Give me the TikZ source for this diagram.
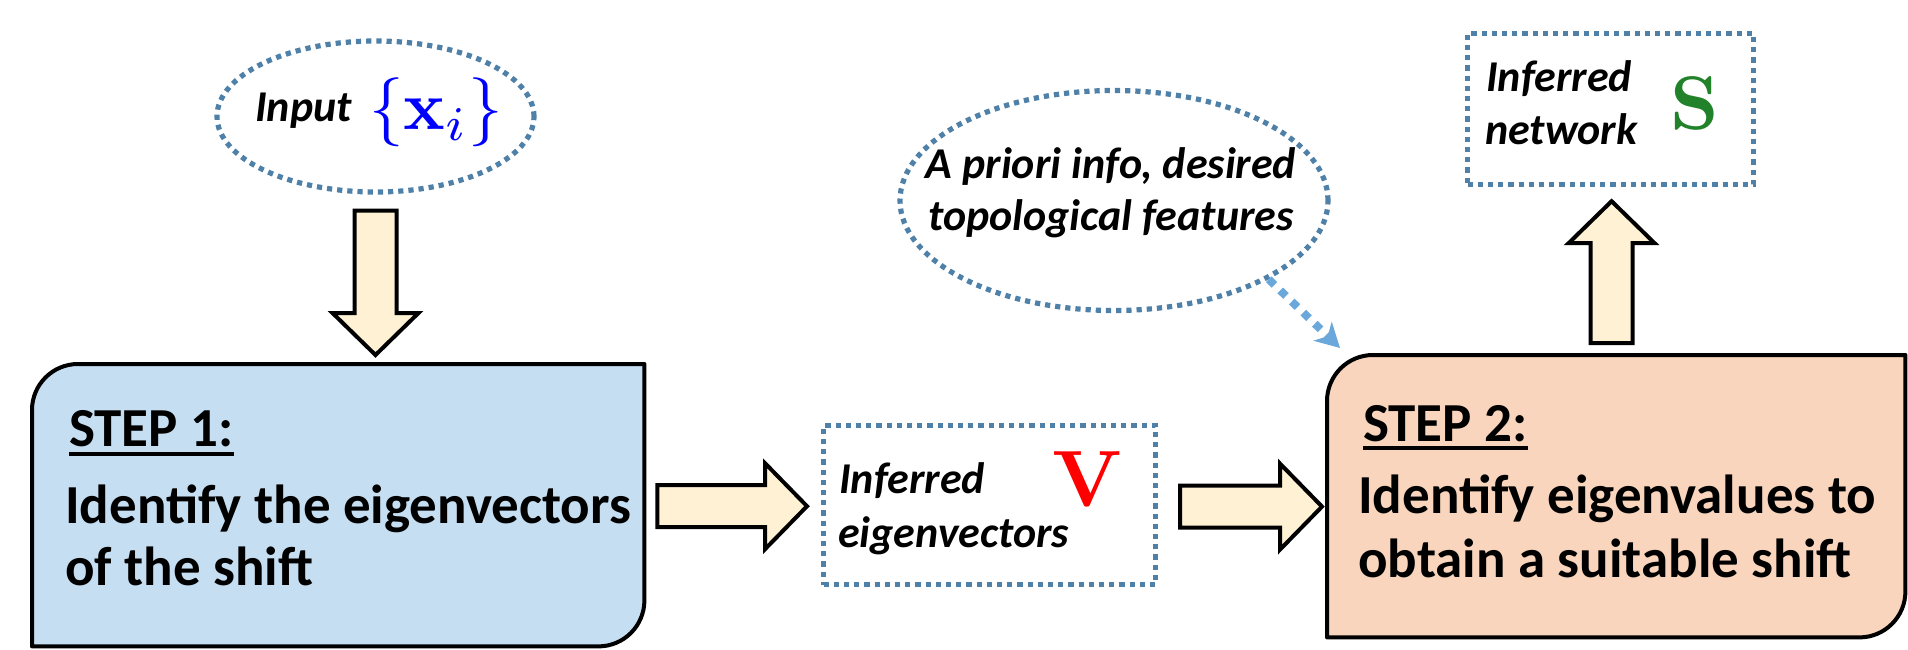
\documentclass[tikz,border=0pt]{standalone}
\usepackage{graphicx}
\usepackage[no-math]{fontspec}
\setmainfont{Carlito}
\usetikzlibrary{shapes.geometric,calc,arrows.meta}
\definecolor{stepA}{HTML}{C6DEF1}
\definecolor{stepB}{HTML}{F8D5BC}
\definecolor{cream}{HTML}{FFF2D4}
\definecolor{dotcol}{HTML}{4E80A8}
\definecolor{arrcol}{HTML}{6AA8DC}
\definecolor{sgreen}{HTML}{22822A}
\tikzset{
  dotline/.style={draw=dotcol, line width=5.2pt, dash pattern=on 5.2pt off 5pt},
  dotbox/.style={dotline, rectangle, inner sep=0pt},
  dotell/.style={dotline, ellipse, inner sep=0pt},
  stepline/.style={draw=black, line width=4pt, line join=round},
  blockline/.style={draw=black, fill=cream, line width=4pt, line join=miter},
  bodytext/.style={font=\fontsize{55}{66}\selectfont\bfseries, inner sep=0pt, anchor=base west},
  labtext/.style={font=\fontsize{44}{52}\selectfont\bfseries\itshape, inner sep=0pt, anchor=base west},
  mathlab/.style={inner sep=0pt, anchor=base west},
  holder/.style={inner sep=0pt, anchor=north west},
  dotarrow/.style={draw=arrcol, line width=8pt, dash pattern=on 8pt off 8pt, -{Stealth[length=24pt,width=26pt,inset=7pt]}},
}
\newcommand{\blockarrow}[2]{%
  \draw[blockline] let \p1=#1, \p2=#2,
    \n1={atan2(\y2-\y1,\x2-\x1)}, \n2={veclen(\x2-\x1,\y2-\y1)} in
    [shift={(\p1)}, rotate=\n1]
    (0,-21) -- ({\n2-42},-21) -- ({\n2-42},-43) -- ({\n2},0)
    -- ({\n2-42},43) -- ({\n2-42},21) -- (0,21) -- cycle;}
\newcommand{\stepshape}[2]{%
  \draw[stepline, fill=#2] (#1.south west) -- ([yshift=-46pt]#1.north west)
    .. controls ([yshift=-20.6pt]#1.north west) and ([xshift=20.6pt]#1.north west) .. ([xshift=46pt]#1.north west)
    -- (#1.north east) -- ([yshift=46pt]#1.south east)
    .. controls ([yshift=20.6pt]#1.south east) and ([xshift=-20.6pt]#1.south east) .. ([xshift=-46pt]#1.south east)
    -- cycle;}
\begin{document}
\begin{tikzpicture}[x=1pt,y=-1pt]
\useasboundingbox (0,0) rectangle (1908,650);

% Input ellipse
\node[dotell, minimum width=317pt, minimum height=151pt] (inp) at (375.5,116.5) {};
\node[labtext] (inpt) at (255,122) {Input};
\node[mathlab, text=blue] (inpx) at (369,130) {\scalebox{6.9}{$\{\mathbf{x}_i\}$}};

% Step 1
\node[holder, minimum width=612pt, minimum height=282pt] (s1) at (32,364) {};
\stepshape{s1}{stepA}
\node[bodytext] (h1) at (69,446) {STEP 1:};
\draw[line width=4.5pt] ([yshift=-8pt]h1.base west) -- ([yshift=-8pt]h1.base east);
\node[bodytext] (t1a) at (65,523) {Identify the eigenvectors};
\node[bodytext] (t1b) at (65,585) {of the shift};

% Inferred eigenvectors box
\node[dotbox, minimum width=332pt, minimum height=159pt, anchor=north west] (vb) at (821,423) {};
\node[labtext] (vt1) at (839,493) {Inferred};
\node[labtext] (vt2) at (838,547) {eigenvectors};
\node[mathlab, text=red] (vv) at (1052,506) {\scalebox{8}{$\mathbf{V}$}};

% Step 2
\node[holder, minimum width=578pt, minimum height=282pt] (s2) at (1327,355) {};
\stepshape{s2}{stepB}
\node[bodytext] (h2) at (1363,441) {STEP 2:};
\draw[line width=4.5pt] ([yshift=-7pt]h2.base west) -- ([yshift=-7pt]h2.base east);
\node[bodytext] (t2a) at (1358,513) {Identify eigenvalues to};
\node[bodytext] (t2b) at (1358,577) {obtain a suitable shift};

% Inferred network box
\node[dotbox, minimum width=286pt, minimum height=151pt, anchor=north west] (sb) at (1465,31) {};
\node[labtext] (st1) at (1486,92) {Inferred};
\node[labtext] (st2) at (1485,145) {network};
\node[mathlab, text=sgreen] (ss) at (1670,130) {\scalebox{7.6}{$\mathbf{S}$}};

% A priori ellipse
\node[dotell, minimum width=428pt, minimum height=220pt] (ap) at (1114,200.5) {};
\node[labtext, anchor=base] (apt1) at (1111,178) {A priori info, desired};
\node[labtext, anchor=base] (apt2) at (1111,230) {topological features};

% connectors
\coordinate (d1a) at ($(inp.south)+(0,16)$);
\coordinate (d1b) at ($(inp.south |- s1.north)+(0,-9)$);
\blockarrow{(d1a)}{(d1b)}
\coordinate (a1a) at ($(s1.east)+(13,1)$);
\coordinate (a1b) at ($(vb.west |- s1.east)+(-14,1)$);
\blockarrow{(a1a)}{(a1b)}
\coordinate (a2a) at ($(vb.east)+(22,1.5)$);
\coordinate (a2b) at ($(s2.west |- a2a)+(-5,0)$);
\blockarrow{(a2a)}{(a2b)}
\coordinate (u1a) at ($(sb.south |- s2.north)+(1,-12)$);
\coordinate (u1b) at ($(sb.south)+(1,14)$);
\blockarrow{(u1a)}{(u1b)}
\coordinate (apend) at ($(s2.north west)+(13,-7)$);
\draw[dotarrow] (ap.-27) -- (apend);
\end{tikzpicture}
\end{document}
